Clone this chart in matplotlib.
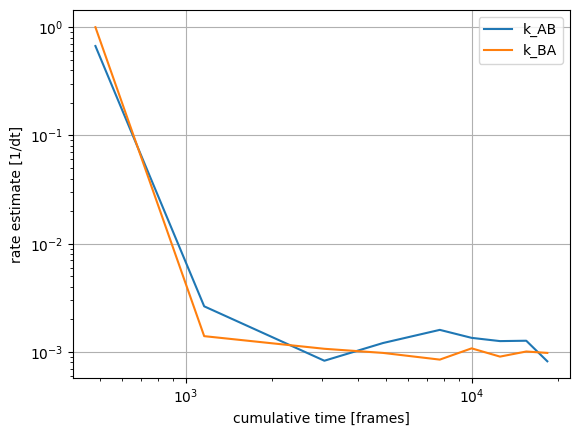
import matplotlib
matplotlib.use("Agg")
import matplotlib.pyplot as plt

# cumulative time [frames] and rate estimates
times = [483, 1160, 3054, 4900, 7740, 10000, 12570, 15530, 18400]
k_AB = [0.67, 0.00264, 0.00083, 0.00121, 0.0016, 0.00135, 0.00126, 0.00127, 0.00082]
k_BA = [1.0, 0.0014, 0.00107, 0.00098, 0.00085, 0.00108, 0.000906, 0.00101, 0.00098]

fig, ax = plt.subplots(figsize=(5.78, 4.37), dpi=100)
fig.subplots_adjust(left=0.126, right=0.986, top=0.976, bottom=0.135)

ax.plot(times, k_AB, label="k_AB")
ax.plot(times, k_BA, label="k_BA")
ax.set_xscale("log")
ax.set_yscale("log")
ax.set_xlabel("cumulative time [frames]")
ax.set_ylabel("rate estimate [1/dt]")
ax.grid(True)
ax.legend(loc="upper right")

fig.savefig("out.png")
